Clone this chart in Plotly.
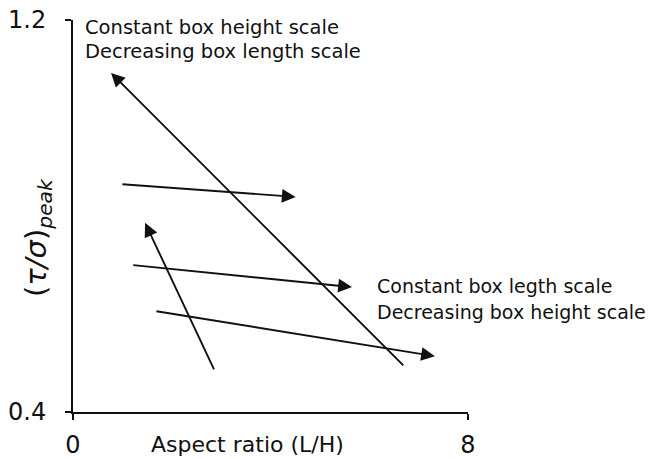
import plotly.graph_objects as go

# Arrow segments in data units: tail (x0, y0) -> head (x1, y1)
tail_x = [6.72, 0.97, 2.87, 1.19, 1.66]
tail_y = [0.492, 0.865, 0.484, 0.700, 0.606]
head_x = [0.77, 4.51, 1.46, 5.65, 7.33]
head_y = [1.092, 0.839, 0.786, 0.655, 0.514]

x_ticks = [0, 8]
y_ticks = [0.4, 1.2]

label_top = ["Constant box height scale", "Decreasing box length scale"]
label_right = ["Constant box legth scale", "Decreasing box height scale"]

FONT = "DejaVu Sans"
INK = "#111111"

fig = go.Figure()
# invisible trace so the axes are drawn
fig.add_trace(go.Scatter(x=x_ticks, y=y_ticks, mode="markers",
                         marker=dict(opacity=0), hoverinfo="skip", showlegend=False))

annotations = []
for x0, y0, x1, y1 in zip(tail_x, tail_y, head_x, head_y):
    annotations.append(dict(
        x=x1, y=y1, ax=x0, ay=y0, xref="x", yref="y", axref="x", ayref="y",
        text="", showarrow=True, arrowhead=2, arrowsize=1.45, arrowwidth=1.9,
        arrowcolor=INK, standoff=0, startstandoff=0,
    ))

for txt, yy in zip(label_top, [1.185, 1.136]):
    annotations.append(dict(x=0.2, y=yy, xref="x", yref="y", text=txt,
                            showarrow=False, xanchor="left", yanchor="middle",
                            font=dict(family=FONT, size=19.5, color=INK)))
for txt, yy in zip(label_right, [0.658, 0.604]):
    annotations.append(dict(x=6.11, y=yy, xref="x", yref="y", text=txt,
                            showarrow=False, xanchor="left", yanchor="middle",
                            font=dict(family=FONT, size=19, color=INK)))

# axis titles
annotations.append(dict(x=0.443, y=-0.082, xref="paper", yref="paper",
                        text="Aspect ratio (L/H)", showarrow=False,
                        xanchor="center", yanchor="middle",
                        font=dict(family=FONT, size=22, color=INK)))
annotations.append(dict(x=-0.089, y=0.446, xref="paper", yref="paper",
                        text="(<i>τ/σ</i>)<sub><i>peak</i></sub>", showarrow=False,
                        textangle=-90, xanchor="center", yanchor="middle",
                        font=dict(family=FONT, size=29, color=INK)))

axis_common = dict(showgrid=False, zeroline=False, showline=True, linecolor=INK,
                   linewidth=2, ticks="outside", ticklen=6, tickwidth=2,
                   tickcolor=INK, automargin=False,
                   tickfont=dict(family=FONT, size=24, color=INK))

fig.update_layout(
    width=654, height=459,
    margin=dict(l=73, r=186, t=20, b=47, autoexpand=False),
    paper_bgcolor="white", plot_bgcolor="white",
    xaxis=dict(range=[0, 8], tickvals=x_ticks, ticktext=["0", "8"],
               ticklabelstandoff=4, **axis_common),
    yaxis=dict(range=[0.4, 1.2], tickvals=y_ticks, ticktext=["0.4", "1.2"],
               ticklabelstandoff=14, **axis_common),
    annotations=annotations,
    showlegend=False,
)

fig.write_html("out.html")
